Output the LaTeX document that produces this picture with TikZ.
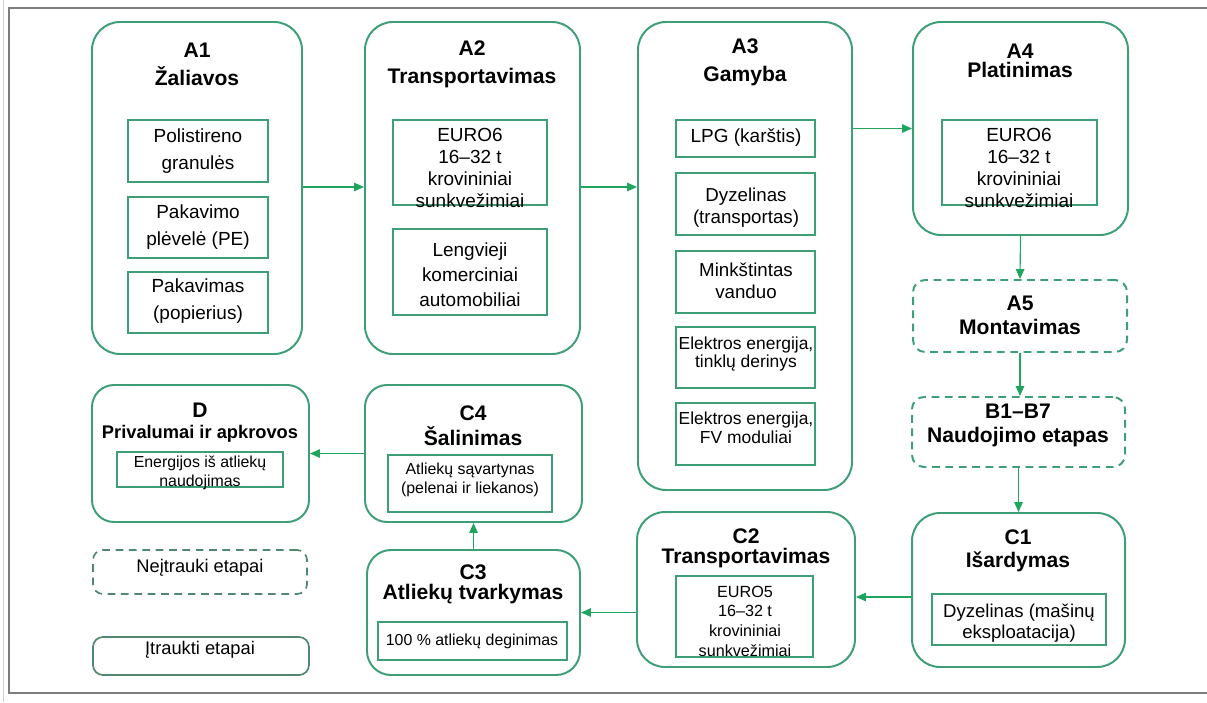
\documentclass[tikz,border=0pt]{standalone}
\usepackage{fontspec}
\setmainfont{Liberation Sans}
\usetikzlibrary{fit,arrows.meta}

\definecolor{boxgreen}{RGB}{62,158,118}
\definecolor{flowgreen}{RGB}{32,165,95}
\definecolor{leggreen}{RGB}{80,135,110}
\definecolor{framegray}{RGB}{125,125,125}

\tikzset{
    outbox/.style={draw=boxgreen, line width=1.4pt, rounded corners=0.7cm, inner sep=0pt},
    dashbox/.style={outbox, rounded corners=0.3cm, dash pattern=on 5.5pt off 4pt},
    inbox/.style={draw=boxgreen, line width=1.1pt, inner sep=0pt},
    legbox/.style={draw=leggreen, line width=1.2pt, rounded corners=0.25cm, inner sep=0pt},
    ttl/.style={align=center, inner sep=0pt, font=\bfseries\fontsize{15}{20}\selectfont},
    txt/.style={align=center, inner sep=0pt, font=\fontsize{13.5}{19}\selectfont},
    flow/.style={draw=flowgreen, line width=0.8pt, -{Triangle[length=7pt,width=6pt]}}
}

\begin{document}
\begin{tikzpicture}[x=0.025cm, y=-0.025cm]
    \useasboundingbox (0,0) rectangle (1207,702);
    % frame
    \draw[gray!35, line width=0.6pt] (3,0) -- (3,702);
    \draw[framegray, line width=1.2pt] (1207,8) -- (9,8) -- (9,693) -- (1207,693);

    % A1
    \node[outbox, fit={(92,22) (302,354)}] (a1) {};
    \node[ttl] (a1t) at (197,64) {A1\\Žaliavos};
    \node[inbox, fit={(128,120) (268,182)}] (a1p) {};
    \node[txt] (a1pt) at (198,151) {Polistireno\\granulės};
    \node[inbox, fit={(128,197) (268,258)}] (a1f) {};
    \node[txt] (a1ft) at (198,227) {Pakavimo\\plėvelė (PE)};
    \node[inbox, fit={(128,272) (268,333)}] (a1k) {};
    \node[txt] (a1kt) at (198,301) {Pakavimas\\(popierius)};

    % A2
    \node[outbox, fit={(365,22) (580,354)}] (a2) {};
    \node[ttl] (a2t) at (472,64) {A2\\Transportavimas};
    \node[inbox, fit={(393,120) (547,205)}] (a2s) {};
    \node[txt, font=\fontsize{13.5}{15.5}\selectfont] (a2st) at (470,168) {EURO6\\16–32 t\\krovininiai\\sunkvežimiai};
    \node[inbox, fit={(393,229) (547,315)}] (a2l) {};
    \node[txt, font=\fontsize{13.5}{17.8}\selectfont] (a2lt) at (470,275) {Lengvieji\\komerciniai\\automobiliai};

    % A3
    \node[outbox, fit={(638,22) (852,490)}] (a3) {};
    \node[ttl] (a3t) at (745,62) {A3\\Gamyba};
    \node[inbox, fit={(676,120) (815,157)}] (a3g) {};
    \node[txt] (a3gt) at (746,138) {LPG (karštis)};
    \node[inbox, fit={(676,173) (815,235)}] (a3d) {};
    \node[txt, font=\fontsize{13.3}{15.5}\selectfont] (a3dt) at (746,208) {Dyzelinas\\(transportas)};
    \node[inbox, fit={(676,251) (815,313)}] (a3v) {};
    \node[txt, font=\fontsize{13.3}{15.5}\selectfont] (a3vt) at (746,281) {Minkštintas\\vanduo};
    \node[inbox, fit={(676,327) (815,388)}] (a3e) {};
    \node[txt, font=\fontsize{12.4}{13.5}\selectfont] (a3et) at (746,354) {Elektros energija,\\tinklų derinys};
    \node[inbox, fit={(676,403) (815,465)}] (a3m) {};
    \node[txt, font=\fontsize{12.4}{13.5}\selectfont] (a3mt) at (746,428) {Elektros energija,\\FV moduliai};

    % A4
    \node[outbox, fit={(913,22) (1128,235)}] (a4) {};
    \node[ttl, font=\bfseries\fontsize{15}{14}\selectfont] (a4t) at (1020,61) {A4\\Platinimas};
    \node[inbox, fit={(942,120) (1097,205)}] (a4s) {};
    \node[txt, font=\fontsize{13.5}{15.5}\selectfont] (a4st) at (1019,168) {EURO6\\16–32 t\\krovininiai\\sunkvežimiai};

    % A5, B1-B7
    \node[dashbox, fit={(913,280) (1127,352)}] (a5) {};
    \node[ttl, font=\bfseries\fontsize{15}{17}\selectfont] (a5t) at (1020,315) {A5\\Montavimas};
    \node[dashbox, fit={(912,397) (1125,467)}] (b) {};
    \node[ttl, font=\bfseries\fontsize{15}{17}\selectfont] (bt) at (1018,425) {B1–B7\\Naudojimo etapas};

    % C1
    \node[outbox, fit={(912,513) (1125,667)}] (c1) {};
    \node[ttl, font=\bfseries\fontsize{15}{16}\selectfont] (c1t) at (1018,551) {C1\\Išardymas};
    \node[inbox, fit={(932,594) (1106,645)}] (c1d) {};
    \node[txt, font=\fontsize{13.2}{15}\selectfont] (c1dt) at (1019,623) {Dyzelinas (mašinų\\eksploatacija)};

    % C2
    \node[outbox, fit={(637,512) (855,667)}] (c2) {};
    \node[ttl, font=\bfseries\fontsize{15}{14}\selectfont] (c2t) at (746,548) {C2\\Transportavimas};
    \node[inbox, fit={(676,576) (813,657)}] (c2s) {};
    \node[txt, font=\fontsize{11.5}{14}\selectfont] (c2st) at (745,621) {EURO5\\16–32 t\\krovininiai\\sunkvežimiai};

    % C3
    \node[outbox, rounded corners=0.6cm, fit={(367,550) (580,675)}] (c3) {};
    \node[ttl, font=\bfseries\fontsize{15}{14}\selectfont] (c3t) at (473,584) {C3\\Atliekų tvarkymas};
    \node[inbox, fit={(378,622) (567,660)}] (c3d) {};
    \node[txt, font=\fontsize{11.3}{13.5}\selectfont] (c3dt) at (472,641) {100 \% atliekų deginimas};

    % C4
    \node[outbox, rounded corners=0.55cm, fit={(365,385) (582,522)}] (c4) {};
    \node[ttl, font=\bfseries\fontsize{15}{18}\selectfont] (c4t) at (473,426) {C4\\Šalinimas};
    \node[inbox, fit={(388,455) (552,512)}] (c4l) {};
    \node[txt, font=\fontsize{11.3}{13.5}\selectfont] (c4lt) at (470,480) {Atliekų sąvartynas\\(pelenai ir liekanos)};

    % D
    \node[outbox, rounded corners=0.55cm, fit={(92,385) (309,522)}] (d) {};
    \node[ttl, font=\bfseries\fontsize{13}{15}\selectfont] (dt) at (200,423) {{\fontsize{15}{15}\selectfont D}\\Privalumai ir apkrovos};
    \node[inbox, fit={(117,452) (283,487)}] (de) {};
    \node[txt, font=\fontsize{11.3}{13.5}\selectfont] (det) at (200,473) {Energijos iš atliekų\\naudojimas};

    % legend
    \node[legbox, dash pattern=on 5.5pt off 4pt, fit={(93,550) (307,594)}] (lgn) {};
    \node[txt, font=\fontsize{13}{15}\selectfont] (lgnt) at (200,568) {Neįtrauki etapai};
    \node[legbox, fit={(93,637) (309,675)}] (lgi) {};
    \node[txt, font=\fontsize{13}{15}\selectfont] (lgit) at (200,650) {Įtraukti etapai};

    % flows
    \draw[flow] (a1.east |- 0,187) -- (a2.west |- 0,187);
    \draw[flow] (a2.east |- 0,187) -- (a3.west |- 0,187);
    \draw[flow] (a3.east |- a4.west) -- (a4.west);
    \draw[flow] (a4.south) -- (a5.north);
    \draw[flow] (a5.south) -- (a5.south |- b.north);
    \draw[flow] (b.south) -- (c1.north);
    \draw[flow] (c1.west |- 0,597) -- (c2.east |- 0,597);
    \draw[flow] (c2.west |- c3.east) -- (c3.east);
    \draw[flow] (c3.north) -- (c4.south);
    \draw[flow] (c4.west) -- (d.east);
\end{tikzpicture}
\end{document}
